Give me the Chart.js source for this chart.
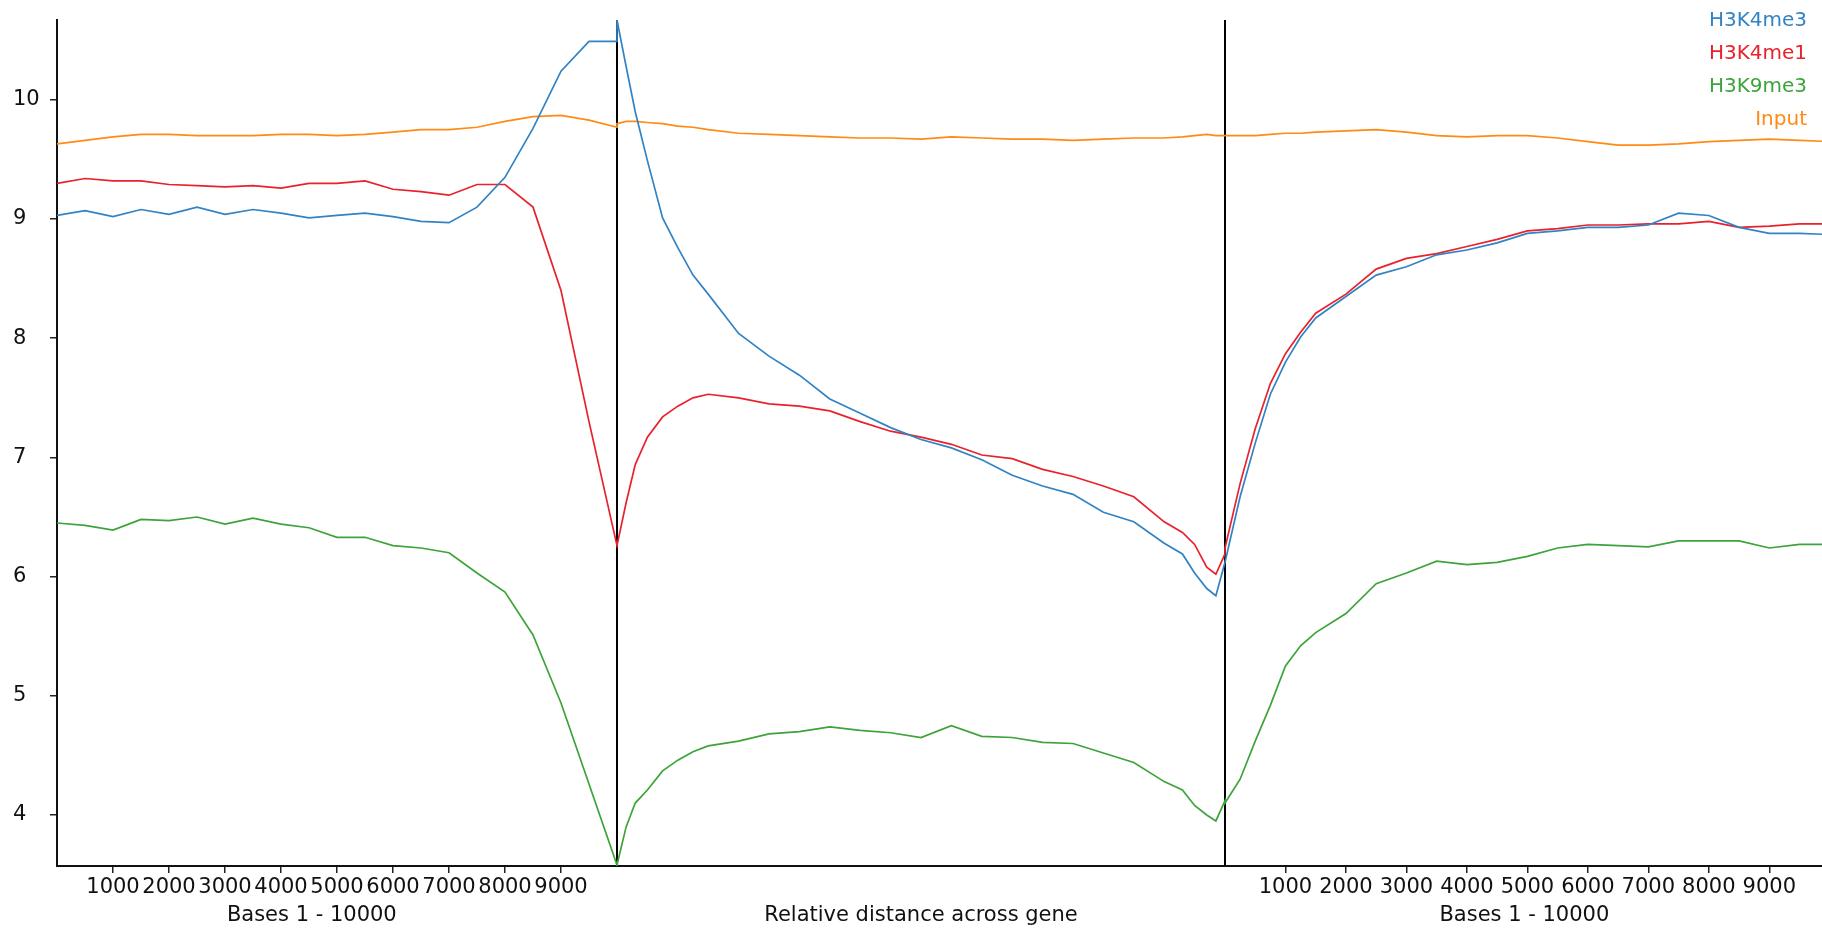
<!DOCTYPE html>
<html>
<head>
<meta charset="utf-8">
<title>Histone marks across genes</title>
<script src="https://cdn.jsdelivr.net/npm/chart.js@4.4.1/dist/chart.umd.min.js"></script>
<style>
    html, body { margin: 0; padding: 0; background: #fff; }
    #wrap { width: 1822px; height: 929px; position: relative; }
</style>
</head>
<body>
<div id="wrap"><canvas id="chart"></canvas></div>
<script>
// sample positions for the three parts of the probe
const upstreamBases = [0, 500, 1000, 1500, 2000, 2500, 3000, 3500, 4000, 4500, 5000,
    5500, 6000, 6500, 7000, 7500, 8000, 8500, 9000, 9500, 10000];
const geneFraction = [0, 0.015, 0.03, 0.05, 0.075, 0.1, 0.125, 0.15, 0.2, 0.25, 0.3, 0.35,
    0.4, 0.45, 0.5, 0.55, 0.6, 0.65, 0.7, 0.75, 0.8, 0.85, 0.9, 0.93, 0.95, 0.97, 0.985, 1];
const downstreamBases = [0, 250, 500, 750, 1000, 1250, 1500, 2000, 2500, 3000, 3500, 4000,
    4500, 5000, 5500, 6000, 6500, 7000, 7500, 8000, 8500, 9000, 9500, 10000];

// H3K4me3
const h3k4me3Up = [9.03, 9.07, 9.02, 9.08, 9.04, 9.10, 9.04, 9.08, 9.05, 9.01, 9.03,
    9.05, 9.02, 8.98, 8.97, 9.10, 9.35, 9.76, 10.24, 10.49, 10.49];
const h3k4me3Gene = [10.67, 10.28, 9.90, 9.49, 9.01, 8.76, 8.53, 8.37, 8.04, 7.85, 7.69, 7.49,
    7.37, 7.25, 7.15, 7.08, 6.98, 6.85, 6.76, 6.69, 6.54, 6.46, 6.28, 6.19, 6.03, 5.90, 5.84, 6.12];
const h3k4me3Down = [6.12, 6.67, 7.12, 7.53, 7.80, 8.01, 8.17, 8.35, 8.53, 8.60, 8.70, 8.74,
    8.80, 8.88, 8.90, 8.93, 8.93, 8.95, 9.05, 9.03, 8.93, 8.88, 8.88, 8.87];

// H3K4me1
const h3k4me1Up = [9.30, 9.34, 9.32, 9.32, 9.29, 9.28, 9.27, 9.28, 9.26, 9.30, 9.30,
    9.32, 9.25, 9.23, 9.20, 9.29, 9.29, 9.10, 8.40, 7.30, 6.26];
const h3k4me1Gene = [6.26, 6.62, 6.94, 7.17, 7.34, 7.43, 7.50, 7.53, 7.50, 7.45, 7.43, 7.39,
    7.30, 7.22, 7.17, 7.11, 7.02, 6.99, 6.90, 6.84, 6.76, 6.67, 6.46, 6.37, 6.27, 6.08, 6.02, 6.19];
const h3k4me1Down = [6.24, 6.78, 7.24, 7.62, 7.87, 8.05, 8.21, 8.37, 8.58, 8.67, 8.71, 8.77,
    8.83, 8.90, 8.92, 8.95, 8.95, 8.96, 8.96, 8.98, 8.93, 8.94, 8.96, 8.96];

// H3K9me3
const h3k9me3Up = [6.45, 6.43, 6.39, 6.48, 6.47, 6.50, 6.44, 6.49, 6.44, 6.41, 6.33,
    6.33, 6.26, 6.24, 6.20, 6.03, 5.87, 5.51, 4.94, 4.26, 3.58];
const h3k9me3Gene = [3.58, 3.90, 4.10, 4.21, 4.37, 4.46, 4.53, 4.58, 4.62, 4.68, 4.70, 4.74,
    4.71, 4.69, 4.65, 4.75, 4.66, 4.65, 4.61, 4.60, 4.52, 4.44, 4.28, 4.21, 4.08, 4.00, 3.95, 4.12];
const h3k9me3Down = [4.10, 4.30, 4.62, 4.92, 5.25, 5.42, 5.53, 5.69, 5.94, 6.03, 6.13, 6.10,
    6.12, 6.17, 6.24, 6.27, 6.26, 6.25, 6.30, 6.30, 6.30, 6.24, 6.27, 6.27];

// Input
const inputUp = [9.63, 9.66, 9.69, 9.71, 9.71, 9.70, 9.70, 9.70, 9.71, 9.71, 9.70,
    9.71, 9.73, 9.75, 9.75, 9.77, 9.82, 9.86, 9.87, 9.83, 9.77];
const inputGene = [9.80, 9.82, 9.82, 9.81, 9.80, 9.78, 9.77, 9.75, 9.72, 9.71, 9.70, 9.69,
    9.68, 9.68, 9.67, 9.69, 9.68, 9.67, 9.67, 9.66, 9.67, 9.68, 9.68, 9.69, 9.70, 9.71, 9.70, 9.70];
const inputDown = [9.70, 9.70, 9.70, 9.71, 9.72, 9.72, 9.73, 9.74, 9.75, 9.73, 9.70, 9.69,
    9.70, 9.70, 9.68, 9.65, 9.62, 9.62, 9.63, 9.65, 9.66, 9.67, 9.66, 9.65];

const seriesNames = ["H3K4me3", "H3K4me1", "H3K9me3", "Input"];
const seriesColors = ["#3283c4", "#e8222c", "#3ea33a", "#ff8a14"];

const upstreamTicks = [1000, 2000, 3000, 4000, 5000, 6000, 7000, 8000, 9000];
const downstreamTicks = [1000, 2000, 3000, 4000, 5000, 6000, 7000, 8000, 9000];
const yTicks = [4, 5, 6, 7, 8, 9, 10];

// one shared x axis: upstream bases, then the gene body, then downstream bases
const GENE_START = 10000;
const GENE_SPAN = 10857;
const DOWN_START = GENE_START + GENE_SPAN;
const DOWN_STRETCH = 1.08;
const X_MAX = 31518;

const FONT = "'DejaVu Sans', Verdana, sans-serif";

function joinSegments(up, gene, down) {
    const pts = [];
    upstreamBases.forEach((b, i) => pts.push({ x: b, y: up[i] }));
    geneFraction.forEach((f, i) => pts.push({ x: GENE_START + f * GENE_SPAN, y: gene[i] }));
    downstreamBases.forEach((b, i) => pts.push({ x: DOWN_START + b * DOWN_STRETCH, y: down[i] }));
    return pts;
}

const seriesData = [
    joinSegments(h3k4me3Up, h3k4me3Gene, h3k4me3Down),
    joinSegments(h3k4me1Up, h3k4me1Gene, h3k4me1Down),
    joinSegments(h3k9me3Up, h3k9me3Gene, h3k9me3Down),
    joinSegments(inputUp, inputGene, inputDown)
];

const xTickValues = upstreamTicks.map(b => b)
    .concat(downstreamTicks.map(b => DOWN_START + b * DOWN_STRETCH));
const xTickLabels = upstreamTicks.map(String).concat(downstreamTicks.map(String));

Chart.defaults.font.family = FONT;
Chart.defaults.font.size = 21;
Chart.defaults.color = "#111";

// black markers at the gene start and end
const boundaryLines = {
    id: "boundaryLines",
    beforeDatasetsDraw(chart) {
        const { ctx, chartArea, scales } = chart;
        ctx.save();
        ctx.strokeStyle = "#000";
        ctx.lineWidth = 2;
        [GENE_START, DOWN_START].forEach(v => {
            const px = Math.round(scales.x.getPixelForValue(v));
            ctx.beginPath();
            ctx.moveTo(px, chartArea.top);
            ctx.lineTo(px, chartArea.bottom);
            ctx.stroke();
        });
        ctx.restore();
    }
};

// segment captions under the tick labels and the coloured names top right
const captions = {
    id: "captions",
    afterDraw(chart) {
        const { ctx, chartArea, scales } = chart;
        const x = scales.x;
        ctx.save();
        ctx.font = "21px " + FONT;
        ctx.fillStyle = "#111";
        ctx.textAlign = "center";
        ctx.textBaseline = "middle";
        const y = chartArea.bottom + 50;
        ctx.fillText("Bases 1 - 10000", x.getPixelForValue(4550), y);
        ctx.fillText("Relative distance across gene", x.getPixelForValue(GENE_START + 0.5 * GENE_SPAN), y);
        ctx.fillText("Bases 1 - 10000", x.getPixelForValue(DOWN_START + 4950 * DOWN_STRETCH), y);

        ctx.font = "20px " + FONT;
        ctx.textAlign = "right";
        chart.data.datasets.forEach((ds, i) => {
            ctx.fillStyle = ds.borderColor;
            ctx.fillText(ds.label, chart.width - 15, 21 + i * 33);
        });
        ctx.restore();
    }
};

new Chart(document.getElementById("chart").getContext("2d"), {
    type: "line",
    data: {
        datasets: seriesNames.map((name, i) => ({
            label: name,
            data: seriesData[i],
            borderColor: seriesColors[i],
            backgroundColor: seriesColors[i],
            borderWidth: 1.7,
            pointRadius: 0,
            tension: 0,
            fill: false
        }))
    },
    options: {
        responsive: true,
        maintainAspectRatio: false,
        animation: false,
        layout: { padding: { top: 20, left: 13, right: 0, bottom: 0 } },
        plugins: {
            legend: { display: false },
            tooltip: { enabled: false }
        },
        scales: {
            x: {
                type: "linear",
                min: 0,
                max: X_MAX,
                afterBuildTicks(scale) {
                    scale.ticks = xTickValues.map(v => ({ value: v }));
                },
                afterFit(scale) {
                    scale.height = 63;
                },
                ticks: {
                    autoSkip: false,
                    maxRotation: 0,
                    minRotation: 0,
                    padding: 2,
                    color: "#111",
                    callback: (value, index) => xTickLabels[index]
                },
                grid: {
                    drawOnChartArea: false,
                    drawTicks: true,
                    tickLength: 7,
                    color: "#222",
                    lineWidth: 1.5
                },
                border: { display: true, color: "#111", width: 2 }
            },
            y: {
                type: "linear",
                min: 3.572,
                max: 10.67,
                afterBuildTicks(scale) {
                    scale.ticks = yTicks.map(v => ({ value: v }));
                },
                afterFit(scale) {
                    scale.width = 44;
                },
                ticks: {
                    crossAlign: "far",
                    color: "#111"
                },
                grid: {
                    drawOnChartArea: false,
                    drawTicks: true,
                    tickLength: 7,
                    color: "#222",
                    lineWidth: 1.5
                },
                border: { display: true, color: "#111", width: 2 }
            }
        }
    },
    plugins: [boundaryLines, captions]
});
</script>
</body>
</html>
